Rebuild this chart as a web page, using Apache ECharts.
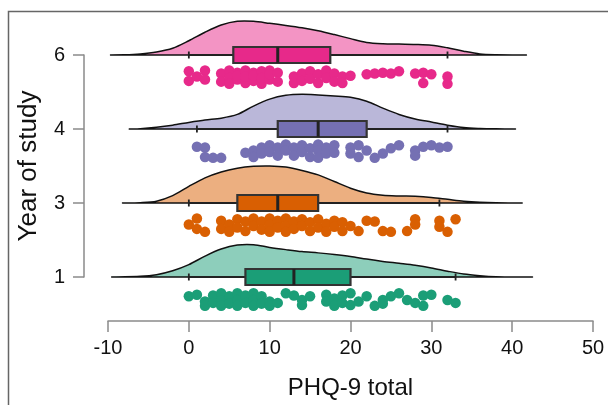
<!DOCTYPE html>
<html>
<head>
<meta charset="utf-8">
<script src="https://cdn.jsdelivr.net/npm/echarts@6/dist/echarts.min.js"></script>
<style>
  html, body { margin: 0; padding: 0; background: #fff; }
  #chart { width: 608px; height: 405px; }
</style>
</head>
<body>
<div id="chart"></div>
<script>
// groups, bottom to top
const yearLabels = ['1', '3', '4', '6'];
const xTicks = [-10, 0, 10, 20, 30, 40, 50];

// density outline per group: x values and height (in row units)
const densX1 = [-9.4, -6, -4, -2, 0, 2, 4, 6, 8, 10, 12, 14, 16, 18, 20, 22, 24, 26, 28, 30, 32, 34, 36, 38, 40, 42.4];
const densH1 = [0, 0.009, 0.031, 0.084, 0.167, 0.282, 0.378, 0.431, 0.436, 0.4, 0.37, 0.343, 0.326, 0.304, 0.277, 0.242, 0.211, 0.185, 0.158, 0.123, 0.079, 0.04, 0.018, 0.004, 0.001, 0];
const densX3 = [-8.1, -6, -4, -2, 0, 2, 4, 6, 8, 10, 12, 14, 16, 18, 20, 22, 24, 26, 28, 30, 32, 34, 36, 38, 41.1];
const densH3 = [0, 0.005, 0.025, 0.1, 0.225, 0.34, 0.42, 0.47, 0.495, 0.5, 0.485, 0.44, 0.38, 0.29, 0.2, 0.135, 0.105, 0.095, 0.09, 0.075, 0.05, 0.025, 0.01, 0.003, 0];
const densX4 = [-7.3, -6, -4, -2, 0, 2, 4, 6, 8, 10, 12, 14, 16, 18, 20, 22, 24, 26, 28, 30, 32, 34, 36, 38, 40.3];
const densH4 = [0, 0.005, 0.024, 0.052, 0.089, 0.122, 0.146, 0.197, 0.31, 0.404, 0.456, 0.47, 0.461, 0.447, 0.428, 0.376, 0.282, 0.197, 0.136, 0.094, 0.052, 0.019, 0.007, 0.002, 0];
const densX6 = [-9.6, -8, -6, -4, -2, 0, 2, 4, 6, 8, 10, 12, 14, 16, 18, 20, 22, 24, 26, 28, 30, 32, 34, 36, 38, 41.6];
const densH6 = [0, 0.002, 0.014, 0.041, 0.092, 0.193, 0.308, 0.405, 0.455, 0.455, 0.428, 0.4, 0.368, 0.327, 0.276, 0.221, 0.17, 0.152, 0.147, 0.143, 0.133, 0.097, 0.051, 0.014, 0.004, 0];

// box stats: [whisker low, Q1, median, Q3, whisker high]
const box1 = [0, 7, 13, 20, 33];
const box3 = [0, 6, 11, 16, 31];
const box4 = [1, 11, 16, 22, 32];
const box6 = [0, 5.5, 11, 17.5, 32];

// raw points: [PHQ-9 total, jitter below the row]
const pts1 = [[0,0.26],[1,0.24],[2,0.33],[2,0.39],[3,0.25],[3,0.35],[4,0.22],[4,0.32],[4,0.39],[5,0.26],[5,0.36],[6,0.22],[6,0.31],[6,0.39],[7,0.25],[7,0.35],[8,0.22],[8,0.31],[8,0.39],[9,0.26],[9,0.36],[10,0.33],[10,0.39],[11,0.35],
  [12,0.22],[13,0.25],[14,0.31],[14,0.38],[15,0.26],
  [17,0.24],[17,0.33],[18,0.29],[18,0.39],[19,0.25],[19,0.35],[20,0.22],[20,0.38],[21,0.33],[22,0.26],
  [23,0.39],[24,0.31],[24,0.36],[25,0.26],[26,0.22],[27,0.31],[28,0.35],[29,0.39],[29,0.25],[30,0.24],
  [32,0.31],[33,0.35]];
const pts3 = [[0,0.29],[1,0.21],[1,0.35],[2,0.39],
  [4,0.24],[4,0.35],[5,0.29],[5,0.39],[6,0.22],[6,0.33],[7,0.25],[7,0.38],[8,0.21],[8,0.31],[9,0.25],[9,0.36],[10,0.21],[10,0.29],[10,0.39],[11,0.24],[11,0.33],[12,0.21],[12,0.31],[12,0.39],[13,0.25],[13,0.35],[14,0.22],[14,0.31],[15,0.26],[15,0.38],[16,0.22],[16,0.33],[17,0.28],[17,0.39],[18,0.24],[18,0.32],[19,0.26],[19,0.38],[20,0.31],
  [21,0.38],[22,0.24],[23,0.25],[24,0.38],[25,0.39],
  [27,0.38],[28,0.22],[28,0.29],
  [31,0.24],[31,0.32],[32,0.39],[33,0.22]];
const pts4 = [[1,0.24],[2,0.25],[2,0.38],[3,0.39],[4,0.39],
  [7,0.32],[8,0.29],[8,0.38],[9,0.25],[9,0.33],[10,0.22],[10,0.31],[11,0.25],[11,0.36],[12,0.21],[12,0.29],[13,0.25],[13,0.36],[14,0.22],[14,0.31],[15,0.26],[15,0.38],[16,0.21],[16,0.29],[16,0.39],[17,0.25],[17,0.33],[18,0.22],[18,0.32],
  [20,0.25],[20,0.33],[21,0.22],[21,0.38],[22,0.29],[23,0.39],[24,0.33],[25,0.26],[26,0.22],
  [28,0.29],[28,0.36],[29,0.24],[30,0.22],[31,0.25],[32,0.24]];
const pts6 = [[0,0.22],[0,0.35],[1,0.29],[2,0.21],[2,0.33],
  [4,0.25],[4,0.36],[5,0.21],[5,0.31],[5,0.39],[6,0.24],[6,0.33],[6,0.28],[7,0.21],[7,0.38],[7,0.29],[8,0.24],[8,0.35],[8,0.28],[9,0.22],[9,0.39],[9,0.31],[10,0.21],[10,0.33],[10,0.26],[11,0.24],[11,0.36],
  [13,0.29],[13,0.38],[14,0.25],[14,0.35],[15,0.22],[15,0.32],[16,0.26],[16,0.38],[17,0.21],[17,0.31],[18,0.25],[18,0.36],[19,0.29],[19,0.38],[20,0.28],
  [22,0.26],[23,0.25],[24,0.24],[25,0.25],[26,0.22],
  [28,0.25],[29,0.24],[29,0.38],[30,0.26],
  [32,0.29],[32,0.39]];

const densX = [densX1, densX3, densX4, densX6];
const densH = [densH1, densH3, densH4, densH6];
const boxes = [box1, box3, box4, box6];
const points = [pts1, pts3, pts4, pts6];

const colors = ['#1B9E77', '#D95F02', '#7570B3', '#E7298A'];
const fills = ['rgba(27,158,119,0.5)', 'rgba(217,95,2,0.5)', 'rgba(117,112,179,0.5)', 'rgba(231,41,138,0.5)'];
const font = '"Liberation Sans", Arial, sans-serif';
const axisGrey = '#8a8a8a';

const renderViolin = (params, api) => {
  const g = params.dataIndex;
  const pts = densX[g].map((x, i) => api.coord([x, g + densH[g][i]]));
  return {
    type: 'polygon',
    shape: { points: pts, smooth: 0.3 },
    style: { fill: fills[g], stroke: '#111', lineWidth: 1.5 }
  };
};

const renderBox = (params, api) => {
  const g = params.dataIndex;
  const [lo, q1, med, q3, hi] = boxes[g];
  const pLo = api.coord([lo, g]);
  const pQ1 = api.coord([q1, g]);
  const pMed = api.coord([med, g]);
  const pQ3 = api.coord([q3, g]);
  const pHi = api.coord([hi, g]);
  const half = 8, cap = 3.5;
  const dark = { stroke: '#222', lineWidth: 1.8 };
  return {
    type: 'group',
    children: [
      { type: 'line', shape: { x1: pLo[0], y1: pLo[1], x2: pHi[0], y2: pHi[1] }, style: dark },
      { type: 'line', shape: { x1: pLo[0], y1: pLo[1] - cap, x2: pLo[0], y2: pLo[1] + cap }, style: dark },
      { type: 'line', shape: { x1: pHi[0], y1: pHi[1] - cap, x2: pHi[0], y2: pHi[1] + cap }, style: dark },
      { type: 'rect', shape: { x: pQ1[0], y: pQ1[1] - half, width: pQ3[0] - pQ1[0], height: half * 2 },
        style: { fill: colors[g], stroke: '#333', lineWidth: 2.2 } },
      { type: 'line', shape: { x1: pMed[0], y1: pMed[1] - half, x2: pMed[0], y2: pMed[1] + half },
        style: { stroke: '#222', lineWidth: 3 } }
    ]
  };
};

const chart = echarts.init(document.getElementById('chart'));

const series = [
  {
    type: 'custom',
    renderItem: renderViolin,
    data: boxes.map((b, g) => [b[2], g]),
    clip: false,
    silent: true,
    z: 1
  },
  {
    type: 'custom',
    renderItem: renderBox,
    data: boxes.map((b, g) => [b[2], g]),
    clip: false,
    silent: true,
    z: 2
  }
];
points.forEach((list, g) => {
  series.push({
    type: 'scatter',
    data: list.map(p => [p[0], g - p[1]]),
    symbolSize: 10.5,
    itemStyle: { color: colors[g], opacity: 1 },
    clip: false,
    z: 3
  });
});

chart.setOption({
  animation: false,
  backgroundColor: '#fff',
  grid: { left: 108, right: 15, top: 55, bottom: 127, containLabel: false },
  xAxis: {
    type: 'value',
    min: xTicks[0],
    max: xTicks[xTicks.length - 1],
    interval: 10,
    position: 'bottom',
    offset: 44,
    axisLine: { show: true, onZero: false, lineStyle: { color: axisGrey, width: 1.5 } },
    axisTick: { show: true, length: 11, lineStyle: { color: axisGrey, width: 1.5 } },
    axisLabel: { fontSize: 20, color: '#111', margin: 17, fontFamily: font, showMinLabel: true, showMaxLabel: true },
    splitLine: { show: false },
    name: 'PHQ-9 total',
    nameLocation: 'middle',
    nameGap: 55,
    nameTextStyle: { fontSize: 24, color: '#111', fontFamily: font }
  },
  yAxis: {
    type: 'value',
    min: 0,
    max: 3,
    interval: 1,
    offset: 24,
    axisLine: { show: true, onZero: false, lineStyle: { color: axisGrey, width: 1.5 } },
    axisTick: { show: true, length: 11, lineStyle: { color: axisGrey, width: 1.5 } },
    axisLabel: { fontSize: 20, color: '#111', margin: 19, fontFamily: font, formatter: v => yearLabels[v] },
    splitLine: { show: false },
    name: 'Year of study',
    nameLocation: 'middle',
    nameGap: 42,
    nameTextStyle: { fontSize: 26, color: '#111', fontFamily: font }
  },
  graphic: [{
    type: 'rect',
    shape: { x: 8.5, y: 11.5, width: 640, height: 440 },
    style: { fill: 'none', stroke: '#666', lineWidth: 1.5 },
    silent: true
  }],
  series: series
});
</script>
</body>
</html>
